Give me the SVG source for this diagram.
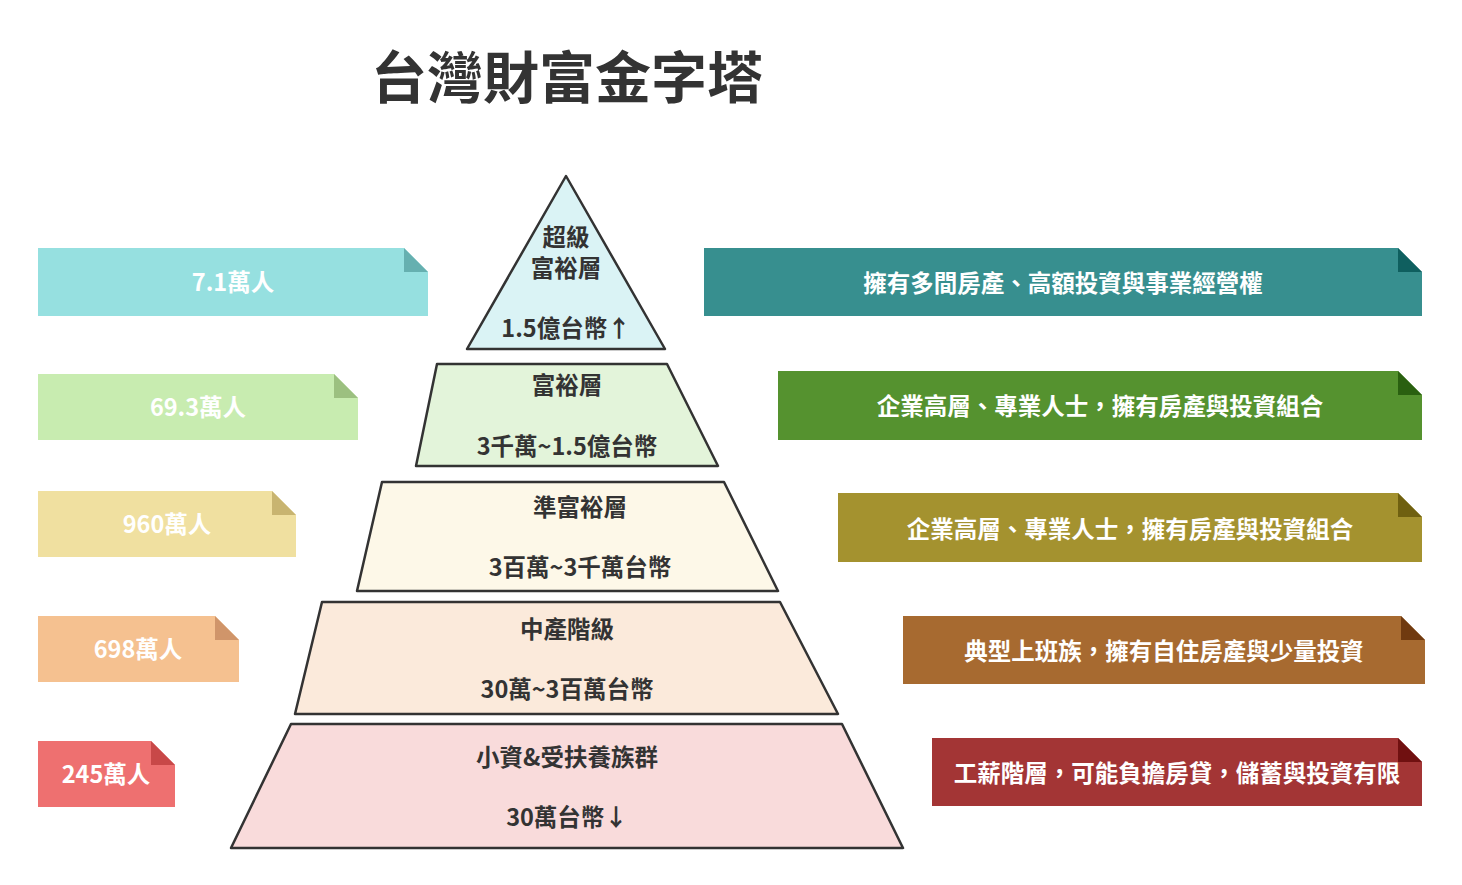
<svg xmlns="http://www.w3.org/2000/svg" width="1462" height="885" viewBox="0 0 1462 885">
<style>
text{font-family:"Noto Sans CJK TC","Noto Sans CJK SC",sans-serif;font-weight:bold;text-anchor:middle}
.t{fill:#333;font-size:23.5px}
.w{fill:#fff;font-size:23.5px}
.p{stroke:#333;stroke-width:2.5;stroke-linejoin:round}
</style>
<rect width="1462" height="885" fill="#fff"/>
<text x="567" y="98" style="font-size:56px;fill:#333">台灣財富金字塔</text>
<g id="pyramid">
<g id="l1"><polygon class="p" points="566,176 665,349 467,349" fill="#daf3f5"/>
<text class="t" x="566" y="246">超級</text><text class="t" x="566" y="277">富裕層</text><text class="t" x="566" y="337">1.5億台幣↑</text></g>
<g id="l2"><polygon class="p" points="437,364 667,364 718,466 416,466" fill="#e3f4da"/>
<text class="t" x="567" y="394">富裕層</text><text class="t" x="567" y="455">3千萬~1.5億台幣</text></g>
<g id="l3"><polygon class="p" points="382,482 724,482 778,591 357,591" fill="#fdf8e8"/>
<text class="t" x="580" y="516">準富裕層</text><text class="t" x="580" y="576">3百萬~3千萬台幣</text></g>
<g id="l4"><polygon class="p" points="322,602 780,602 838,714 295,714" fill="#fbeadb"/>
<text class="t" x="567" y="638">中產階級</text><text class="t" x="567" y="698">30萬~3百萬台幣</text></g>
<g id="l5"><polygon class="p" points="291,724 842,724 903,848 231,848" fill="#f9dbdb"/>
<text class="t" x="567" y="766">小資&amp;受扶養族群</text><text class="t" x="567" y="826">30萬台幣↓</text></g>
</g>
<g id="left">
<g id="a1"><polygon points="38,248 404,248 428,272 428,316 38,316" fill="#96e0e0"/><polygon points="404,248 428,272 404,272" fill="#66b0b0"/><text class="w" x="233" y="291">7.1萬人</text></g>
<g id="a2"><polygon points="38,374 334,374 358,398 358,440 38,440" fill="#c8ecb0"/><polygon points="334,374 358,398 334,398" fill="#9cc080"/><text class="w" x="198" y="416">69.3萬人</text></g>
<g id="a3"><polygon points="38,491 272,491 296,515 296,557 38,557" fill="#f0e0a0"/><polygon points="272,491 296,515 272,515" fill="#c8b470"/><text class="w" x="167" y="533">960萬人</text></g>
<g id="a4"><polygon points="38,616 215,616 239,640 239,682 38,682" fill="#f5c190"/><polygon points="215,616 239,640 215,640" fill="#d0956a"/><text class="w" x="138" y="658">698萬人</text></g>
<g id="a5"><polygon points="38,741 151,741 175,765 175,807 38,807" fill="#ee7070"/><polygon points="151,741 175,765 151,765" fill="#c84848"/><text class="w" x="106" y="783">245萬人</text></g>
</g>
<g id="right">
<g id="b1"><polygon points="704,248 1398,248 1422,272 1422,316 704,316" fill="#378f8f"/><polygon points="1398,248 1422,272 1398,272" fill="#0f5f5f"/><text class="w" x="1063" y="292">擁有多間房產、高額投資與事業經營權</text></g>
<g id="b2"><polygon points="778,371 1398,371 1422,395 1422,440 778,440" fill="#55922f"/><polygon points="1398,371 1422,395 1398,395" fill="#2a6010"/><text class="w" x="1100" y="415">企業高層、專業人士，擁有房產與投資組合</text></g>
<g id="b3"><polygon points="838,493 1398,493 1422,517 1422,562 838,562" fill="#a4922f"/><polygon points="1398,493 1422,517 1398,517" fill="#6f6010"/><text class="w" x="1130" y="538">企業高層、專業人士，擁有房產與投資組合</text></g>
<g id="b4"><polygon points="903,616 1401,616 1425,640 1425,684 903,684" fill="#a76a30"/><polygon points="1401,616 1425,640 1401,640" fill="#703a10"/><text class="w" x="1164" y="660">典型上班族，擁有自住房產與少量投資</text></g>
<g id="b5"><polygon points="932,738 1398,738 1422,762 1422,806 932,806" fill="#a33535"/><polygon points="1398,738 1422,762 1398,762" fill="#701010"/><text class="w" x="1177" y="782">工薪階層，可能負擔房貸，儲蓄與投資有限</text></g>
</g>
<g id="connectors"/>
</svg>
